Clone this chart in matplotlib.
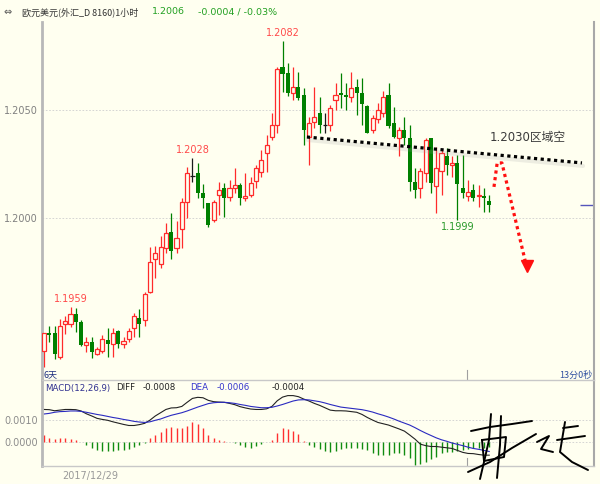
import matplotlib
matplotlib.use("Agg")
import matplotlib.pyplot as plt
from matplotlib import transforms

plt.rcParams['font.family'] = ['DejaVu Sans', 'Noto Sans CJK SC']

# EUR/USD 1h candles
opens = [1.19384, 1.19468, 1.19468, 1.19356, 1.19509, 1.19509, 1.19556, 1.19518, 1.19412, 1.19426,
         1.19370, 1.19384, 1.19435, 1.19417, 1.19477, 1.19417, 1.19440, 1.19491, 1.19537, 1.19528,
         1.19657, 1.19810, 1.19787, 1.19861, 1.19935, 1.19861, 1.19949, 1.20074, 1.20194, 1.20208,
         1.20116, 1.20069, 1.19991, 1.20106, 1.20139, 1.20097, 1.20139, 1.20153, 1.20093, 1.20106,
         1.20171, 1.20213, 1.20301, 1.20375, 1.20431, 1.20699, 1.20671, 1.20579, 1.20607, 1.20569,
         1.20375, 1.20444, 1.20486, 1.20431, 1.20431, 1.20546, 1.20579, 1.20569, 1.20560, 1.20607,
         1.20579, 1.20519, 1.20407, 1.20458, 1.20486, 1.20569, 1.20440, 1.20370, 1.20407, 1.20370,
         1.20167, 1.20139, 1.20208, 1.20370, 1.20148, 1.20218, 1.20287, 1.20245, 1.20255, 1.20139,
         1.20102, 1.20130, 1.20102, 1.20102, 1.20079]
highs = [1.19468, 1.19500, 1.19500, 1.19532, 1.19546, 1.19590, 1.19583, 1.19528, 1.19449, 1.19449,
         1.19403, 1.19458, 1.19491, 1.19491, 1.19481, 1.19449, 1.19491, 1.19560, 1.19579, 1.19657,
         1.19866, 1.19870, 1.19917, 1.19977, 1.20023, 1.19986, 1.20093, 1.20236, 1.20280, 1.20255,
         1.20157, 1.20069, 1.20083, 1.20167, 1.20162, 1.20176, 1.20232, 1.20162, 1.20208, 1.20190,
         1.20245, 1.20315, 1.20384, 1.20486, 1.20699, 1.20820, 1.20718, 1.20699, 1.20676, 1.20602,
         1.20468, 1.20607, 1.20560, 1.20486, 1.20523, 1.20625, 1.20671, 1.20625, 1.20676, 1.20644,
         1.20648, 1.20523, 1.20477, 1.20532, 1.20588, 1.20625, 1.20514, 1.20421, 1.20468, 1.20431,
         1.20232, 1.20232, 1.20370, 1.20370, 1.20329, 1.20315, 1.20324, 1.20287, 1.20292, 1.20292,
         1.20176, 1.20157, 1.20153, 1.20139, 1.20106]
lows = [1.19310, 1.19426, 1.19347, 1.19347, 1.19463, 1.19495, 1.19472, 1.19407, 1.19380, 1.19352,
        1.19366, 1.19375, 1.19356, 1.19356, 1.19398, 1.19398, 1.19426, 1.19449, 1.19449, 1.19500,
        1.19653, 1.19722, 1.19768, 1.19838, 1.19810, 1.19838, 1.19861, 1.20000, 1.20167, 1.20093,
        1.20046, 1.19958, 1.19981, 1.20014, 1.20005, 1.20079, 1.20116, 1.20060, 1.20079, 1.20097,
        1.20139, 1.20190, 1.20213, 1.20361, 1.20394, 1.20583, 1.20565, 1.20546, 1.20546, 1.20338,
        1.20245, 1.20417, 1.20394, 1.20394, 1.20403, 1.20500, 1.20509, 1.20500, 1.20537, 1.20477,
        1.20431, 1.20394, 1.20394, 1.20440, 1.20468, 1.20417, 1.20370, 1.20287, 1.20338, 1.20125,
        1.20093, 1.20093, 1.20167, 1.20116, 1.20023, 1.20106, 1.20199, 1.20190, 1.19990, 1.20093,
        1.20079, 1.20079, 1.20051, 1.20028, 1.20028]
closes = [1.19468, 1.19458, 1.19370, 1.19500, 1.19523, 1.19556, 1.19518, 1.19412, 1.19426, 1.19380,
          1.19393, 1.19440, 1.19417, 1.19468, 1.19417, 1.19431, 1.19477, 1.19546, 1.19509, 1.19648,
          1.19796, 1.19838, 1.19866, 1.19931, 1.19847, 1.19907, 1.20074, 1.20208, 1.20194, 1.20116,
          1.20093, 1.19968, 1.20074, 1.20130, 1.20093, 1.20139, 1.20153, 1.20093, 1.20102, 1.20162,
          1.20232, 1.20269, 1.20338, 1.20431, 1.20690, 1.20667, 1.20579, 1.20607, 1.20556, 1.20407,
          1.20440, 1.20468, 1.20431, 1.20431, 1.20509, 1.20569, 1.20569, 1.20560, 1.20602, 1.20579,
          1.20528, 1.20394, 1.20463, 1.20500, 1.20560, 1.20426, 1.20375, 1.20407, 1.20370, 1.20167,
          1.20130, 1.20218, 1.20361, 1.20162, 1.20232, 1.20301, 1.20245, 1.20255, 1.20157, 1.20116,
          1.20120, 1.20093, 1.20106, 1.20093, 1.20060]

# MACD(12,26,9)
diff = [0.00149, 0.00148, 0.00143, 0.00146, 0.00149, 0.00149, 0.00148, 0.00142, 0.00129, 0.00119,
        0.00108, 0.00103, 0.00099, 0.00092, 0.00086, 0.00080, 0.00075, 0.00075, 0.00079, 0.00085,
        0.00100, 0.00119, 0.00134, 0.00149, 0.00156, 0.00157, 0.00163, 0.00182, 0.00200, 0.00205,
        0.00203, 0.00191, 0.00185, 0.00183, 0.00182, 0.00177, 0.00171, 0.00162, 0.00156, 0.00151,
        0.00149, 0.00149, 0.00152, 0.00163, 0.00189, 0.00206, 0.00213, 0.00213, 0.00208, 0.00197,
        0.00188, 0.00177, 0.00168, 0.00157, 0.00146, 0.00143, 0.00143, 0.00142, 0.00139, 0.00136,
        0.00126, 0.00112, 0.00100, 0.00089, 0.00083, 0.00077, 0.00068, 0.00059, 0.00049, 0.00031,
        0.00012, -0.00011, -0.00018, -0.00022, -0.00022, -0.00025, -0.00028, -0.00031, -0.00040, -0.00049,
        -0.00054, -0.00055, -0.00059, -0.00062, -0.00062]
dea = [0.00128, 0.00131, 0.00136, 0.00139, 0.00140, 0.00142, 0.00142, 0.00140, 0.00136, 0.00131,
       0.00126, 0.00122, 0.00117, 0.00112, 0.00108, 0.00103, 0.00099, 0.00094, 0.00091, 0.00089,
       0.00092, 0.00099, 0.00105, 0.00114, 0.00122, 0.00128, 0.00134, 0.00142, 0.00151, 0.00160,
       0.00168, 0.00176, 0.00180, 0.00182, 0.00182, 0.00180, 0.00177, 0.00172, 0.00168, 0.00163,
       0.00160, 0.00157, 0.00157, 0.00159, 0.00165, 0.00172, 0.00180, 0.00188, 0.00193, 0.00194,
       0.00193, 0.00189, 0.00185, 0.00179, 0.00172, 0.00166, 0.00160, 0.00157, 0.00154, 0.00151,
       0.00148, 0.00143, 0.00137, 0.00129, 0.00122, 0.00114, 0.00105, 0.00095, 0.00086, 0.00077,
       0.00065, 0.00052, 0.00040, 0.00029, 0.00018, 0.00009, 0.00002, -0.00006, -0.00012, -0.00018,
       -0.00025, -0.00031, -0.00035, -0.00040, -0.00045]
hist = [0.00031, 0.00018, 0.00012, 0.00015, 0.00018, 0.00012, 0.00006, -0.00003, -0.00015, -0.00031,
        -0.00040, -0.00043, -0.00043, -0.00043, -0.00040, -0.00039, -0.00034, -0.00023, -0.00015, -0.00005,
        0.00015, 0.00031, 0.00046, 0.00062, 0.00068, 0.00062, 0.00062, 0.00074, 0.00089, 0.00080,
        0.00065, 0.00031, 0.00018, 0.00006, 0.00003, -0.00002, -0.00006, -0.00015, -0.00023, -0.00028,
        -0.00018, -0.00012, -0.00003, 0.00009, 0.00039, 0.00065, 0.00059, 0.00049, 0.00034, 0.00002,
        -0.00015, -0.00023, -0.00034, -0.00043, -0.00049, -0.00043, -0.00034, -0.00031, -0.00028, -0.00031,
        -0.00034, -0.00039, -0.00054, -0.00059, -0.00059, -0.00059, -0.00054, -0.00054, -0.00062, -0.00077,
        -0.00108, -0.00105, -0.00092, -0.00080, -0.00069, -0.00054, -0.00049, -0.00046, -0.00043, -0.00039,
        -0.00034, -0.00031, -0.00031, -0.00028, -0.00023]

peak_idx = [5, 28, 45]
low_idx = [78]
price_ticks = [1.2000, 1.2050]
macd_ticks = [0.0, 0.0010]

# trade idea drawn on the chart
trend_x = [49.6, 101.5]
trend_y = [1.20375, 1.20255]
path_x = [84.9, 85.5, 86.4, 90.8]
path_y = [1.20144, 1.20255, 1.20255, 1.19800]
arrow_tip = (91.2, 1.19778)
idea_text = '1.2030区域空'

bg = '#fffff0'
up = '#ff2b2b'
down = '#008000'
W, H = 600, 484
cjk = ['Noto Sans CJK SC', 'DejaVu Sans']


def box(x0, y0, x1, y1):
    return [x0 / W, 1 - y1 / H, (x1 - x0) / W, (y1 - y0) / H]


def fpos(x, y):
    return x / W, 1 - y / H


fig = plt.figure(figsize=(6, 4.84), dpi=100, facecolor=bg)
ax = fig.add_axes(box(42, 22, 594, 380))
ax2 = fig.add_axes(box(42, 380, 594, 466))
xlim = (-0.38, 103.77)

n = len(closes)
xs = list(range(n))

# candles
ax.set_facecolor(bg)
for i in xs:
    o, h, l, c = opens[i], highs[i], lows[i], closes[i]
    if c > o:
        col = up
    elif c < o:
        col = down
    else:
        col = '#1a1a1a'
    ax.vlines(i, l, h, color=col, lw=0.9, zorder=2)
    if c > o:
        ax.bar(i, max(c - o, 0.00002), 0.78, o, facecolor=bg, edgecolor=col, lw=0.9, zorder=3)
    elif c < o:
        ax.bar(i, o - c, 0.78, c, color=col, lw=0, zorder=3)
    else:
        ax.hlines(o, i - 0.45, i + 0.45, color=col, lw=0.9, zorder=3)

for i in peak_idx:
    ax.annotate(f'{highs[i]:.4f}', (i, highs[i]), xytext=(0, 2), textcoords='offset points',
                ha='center', va='bottom', fontsize=7, color='#ff4a4a')
for i in low_idx:
    ax.annotate(f'{lows[i]:.4f}', (i, lows[i]), xytext=(0, -1.5), textcoords='offset points',
                ha='center', va='top', fontsize=7, color='#2a9a2a')

# dotted resistance line with soft shadow
shadow = transforms.offset_copy(ax.transData, fig=fig, x=1, y=-3, units='dots')
ax.plot(trend_x, trend_y, color='#a0a0a0', lw=3, alpha=0.18, transform=shadow, zorder=4,
        solid_capstyle='round')
ax.plot(trend_x, trend_y, color='black', lw=2.3, ls=(0, (1, 1.1)), zorder=5)
ax.text(91.3, 1.20375, idea_text, ha='center', va='center', fontsize=8.5, color='#3a3a3a')

ax.plot(path_x, path_y, color='#ff1010', lw=2.3, ls=(0, (1, 1.1)), zorder=5)
ax.plot([arrow_tip[0]], [arrow_tip[1]], marker='v', ms=8, color='#ff1010', zorder=5)

ax.hlines(closes[-1], 101.2, xlim[1], color='#5555bb', lw=1)

ax.set_xlim(*xlim)
ax.set_ylim(1.192499, 1.209075)
ax.set_xticks([])
ax.set_yticks(price_ticks)
ax.set_yticklabels([f'{t:.4f}' for t in price_ticks])
ax.tick_params(axis='y', length=0, labelsize=7, labelcolor='#808080', pad=3)
ax.yaxis.grid(True, ls=(0, (2, 2)), color='#cfcfcf', lw=0.6)
ax.set_axisbelow(True)
for s in ['top', 'bottom']:
    ax.spines[s].set_visible(False)
ax.spines['left'].set_color('#b8b8b8')
ax.spines['left'].set_linewidth(2)
ax.spines['right'].set_color('#a8a8a8')
ax.spines['right'].set_linewidth(1.5)
ax.axvline(79.8, 0, 0.028, color='#a0a0a0', lw=0.8)

# MACD panel
ax2.set_facecolor(bg)
ax2.vlines(xs, 0, hist, colors=['#ff3030' if v > 0 else '#108c10' for v in hist], lw=1)
ax2.plot(xs, diff, color='#222222', lw=0.8)
ax2.plot(xs, dea, color='#2a2ac0', lw=0.8)
ax2.set_xlim(*xlim)
ax2.set_ylim(-0.00112, 0.00285)
ax2.set_xticks([])
ax2.set_yticks(macd_ticks)
ax2.set_yticklabels([f'{t:.4f}' for t in macd_ticks])
ax2.tick_params(axis='y', length=0, labelsize=7, labelcolor='#8c8c8c', pad=3)
ax2.yaxis.grid(True, ls=(0, (2, 2)), color='#cfcfcf', lw=0.6)
ax2.set_axisbelow(True)
for s in ['top', 'bottom']:
    ax2.spines[s].set_color('#c8c8c8')
    ax2.spines[s].set_linewidth(1)
ax2.spines['left'].set_color('#b8b8b8')
ax2.spines['left'].set_linewidth(2)
ax2.spines['right'].set_color('#a8a8a8')
ax2.spines['right'].set_linewidth(1.5)
ax2.axvline(79.8, 0, 0.09, color='#a0a0a0', lw=0.8)

# header and captions
fig.text(*fpos(4, 12), '⇔', fontsize=7, color='#505050', va='center')
fig.text(*fpos(22, 12), '欧元美元(外汇_D 8160)1小时', fontsize=6.5, color='#333333',
         va='center', family=cjk)
fig.text(*fpos(152, 12), '1.2006', fontsize=6.8, color='#22a022', va='center')
fig.text(*fpos(198, 12), '-0.0004 / -0.03%', fontsize=6.8, color='#22a022', va='center')
fig.text(*fpos(43, 375), '6天', fontsize=6.5, color='#203080', va='center', family=cjk)
fig.text(*fpos(592, 375), '13分0秒', fontsize=6.5, color='#3050a0', va='center', ha='right',
         family=cjk)
fig.text(*fpos(45, 388), 'MACD(12,26,9)', fontsize=6.2, color='#303090', va='center')
fig.text(*fpos(116, 388), 'DIFF', fontsize=6.2, color='#222222', va='center')
fig.text(*fpos(143, 388), '-0.0008', fontsize=6.2, color='#222222', va='center')
fig.text(*fpos(190, 388), 'DEA', fontsize=6.2, color='#3333cc', va='center')
fig.text(*fpos(217, 388), '-0.0006', fontsize=6.2, color='#3333cc', va='center')
fig.text(*fpos(272, 388), '-0.0004', fontsize=6.2, color='#222222', va='center')
fig.text(*fpos(90, 476), '2017/12/29', fontsize=7, color='#999999', va='center', ha='center')

# handwritten signature, bottom right
ov = fig.add_axes([0, 0, 1, 1])
ov.set_xlim(0, W)
ov.set_ylim(H, 0)
ov.axis('off')
ov.patch.set_alpha(0)
strokes = [
    [(471, 431), (490, 427), (512, 424), (532, 421)],
    [(491, 414), (489, 440), (484, 462), (480, 479)],
    [(501, 416), (500, 445), (497, 478)],
    [(482, 440), (506, 437), (504, 457), (484, 461), (482, 440)],
    [(468, 472), (490, 462), (512, 448), (536, 434)],
    [(537, 442), (549, 436), (541, 449), (553, 452)],
    [(563, 428), (578, 426)],
    [(557, 440), (585, 436)],
    [(565, 422), (560, 452), (572, 462), (588, 470)],
]
for st in strokes:
    ov.plot([p[0] for p in st], [p[1] for p in st], color='black', lw=1.4, solid_capstyle='round')

fig.savefig('out.png', dpi=100, facecolor=bg)
